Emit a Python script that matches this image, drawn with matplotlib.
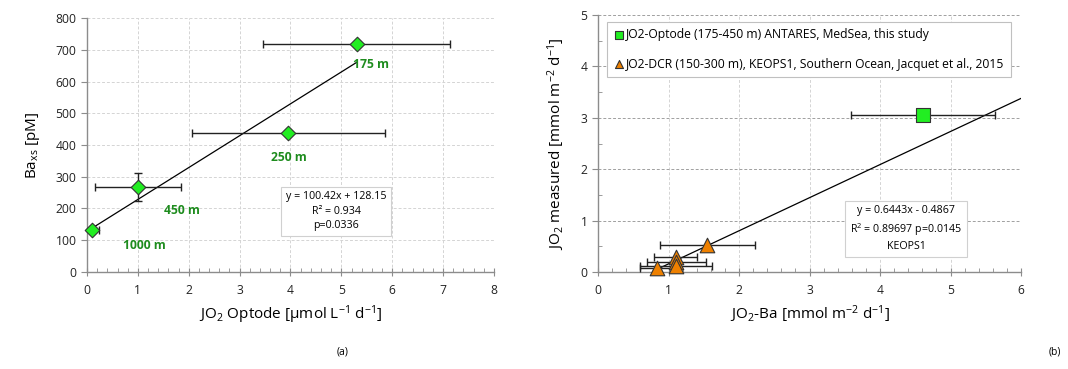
import numpy as np
import matplotlib
matplotlib.use('Agg')
import matplotlib.pyplot as plt
from matplotlib.ticker import MultipleLocator

plt.rcParams['font.family'] = ['Open Sans', 'DejaVu Sans']
plt.rcParams['mathtext.fontset'] = 'custom'
plt.rcParams['mathtext.rm'] = 'Open Sans'
plt.rcParams['mathtext.it'] = 'Open Sans'
plt.rcParams['mathtext.default'] = 'regular'

# panel (a): JO2 optode vs Ba excess
depths = ['175 m', '250 m', '450 m', '1000 m']
jo2_opt = [5.3, 3.96, 1.0, 0.1]
jo2_opt_err = [1.84, 1.9, 0.84, 0.14]
ba_xs = [718, 438, 268, 131]
ba_xs_err = [0, 0, 44, 0]
lab_x = [5.58, 3.96, 1.87, 1.12]
lab_y = [655, 362, 195, 82]
fit_a = (100.42, 128.15)

# panel (b): JO2 measured vs JO2-Ba
opt_x = [4.61]
opt_xerr = [1.02]
opt_y = [3.05]
keops_x = [1.55, 1.10, 1.11, 1.11, 0.84]
keops_xerr = [0.67, 0.31, 0.42, 0.51, 0.25]
keops_y = [0.52, 0.29, 0.19, 0.12, 0.07]
fit_b = (0.6443, -0.4867)

axis_grey = '#8c8c8c'
grid_grey = '#d4d4d4'


def style_axes(ax):
    for s in ['top', 'right']:
        ax.spines[s].set_visible(False)
    for s in ['left', 'bottom']:
        ax.spines[s].set_color(axis_grey)
        ax.spines[s].set_linewidth(1.0)
    ax.tick_params(axis='both', which='major', color=axis_grey, length=4,
                   labelsize=8.7, colors='#222222')
    ax.tick_params(axis='x', which='major', direction='inout', length=6, pad=6)
    ax.tick_params(axis='x', which='minor', direction='in', color=axis_grey, length=3)
    ax.tick_params(axis='y', which='major', direction='out')


fig = plt.figure(figsize=(10.68, 3.69), dpi=100)

# ---- (a)
ax1 = fig.add_axes([0.0815, 0.263, 0.381, 0.688])
ax1.set_xlim(0, 8)
ax1.set_ylim(0, 800)
ax1.xaxis.set_major_locator(MultipleLocator(1))
ax1.xaxis.set_minor_locator(MultipleLocator(0.2))
ax1.yaxis.set_major_locator(MultipleLocator(100))
ax1.grid(True, which='major', color=grid_grey, linestyle=(0, (3, 2)), linewidth=0.7)
ax1.set_axisbelow(True)
style_axes(ax1)

xs = np.array([min(jo2_opt), max(jo2_opt)])
ax1.plot(xs, fit_a[0] * xs + fit_a[1], color='black', lw=0.9, zorder=2)
ax1.errorbar(jo2_opt, ba_xs, xerr=jo2_opt_err, yerr=ba_xs_err, fmt='none',
             ecolor='#222222', elinewidth=1.0, capsize=3, capthick=1.0, zorder=3)
ax1.scatter(jo2_opt, ba_xs, marker='D', s=55, color='#22ee22', edgecolor='#333333',
            linewidth=0.8, zorder=4, clip_on=False)
for d, x, y in zip(depths, lab_x, lab_y):
    ax1.text(x, y, d, color='#1e8c1e', fontsize=8.7, fontweight='bold',
             ha='center', va='center')
ax1.text(4.9, 192, 'y = 100.42x + 128.15\nR² = 0.934\np=0.0336', ha='center', va='center',
         fontsize=7.7, linespacing=1.4,
         bbox=dict(boxstyle='square,pad=0.45', fc='white', ec='#d0d0d0', lw=0.8))
ax1.set_xlabel('JO$_2$ Optode [µmol L$^{-1}$ d$^{-1}$]', fontsize=11, labelpad=4)
ax1.set_ylabel('Ba$_{xs}$ [pM]', fontsize=11, labelpad=10)

# ---- (b)
ax2 = fig.add_axes([0.56, 0.263, 0.396, 0.696])
ax2.set_xlim(0, 6)
ax2.set_ylim(0, 5)
ax2.xaxis.set_major_locator(MultipleLocator(1))
ax2.xaxis.set_minor_locator(MultipleLocator(0.2))
ax2.yaxis.set_major_locator(MultipleLocator(1))
ax2.yaxis.set_minor_locator(MultipleLocator(0.5))
ax2.grid(True, axis='x', which='major', color=grid_grey, linestyle=(0, (3, 2)), linewidth=0.7)
ax2.grid(True, axis='y', which='major', color='#a0a0a0', linestyle=(0, (3, 2)), linewidth=0.7)
ax2.set_axisbelow(True)
style_axes(ax2)
ax2.tick_params(axis='y', which='minor', direction='in', color=axis_grey, length=3)

xs = np.array([min(keops_x), 6.0])
ax2.plot(xs, fit_b[0] * xs + fit_b[1], color='black', lw=0.9, zorder=2)
ax2.errorbar(opt_x, opt_y, xerr=opt_xerr, fmt='none', ecolor='#222222',
             elinewidth=1.0, capsize=3, capthick=1.0, zorder=3)
ax2.errorbar(keops_x, keops_y, xerr=keops_xerr, fmt='none', ecolor='#222222',
             elinewidth=1.0, capsize=3, capthick=1.0, zorder=3)
ax2.scatter(opt_x, opt_y, marker='s', s=95, color='#22ee22', edgecolor='#333333',
            linewidth=0.8, zorder=4, label='JO2-Optode (175-450 m) ANTARES, MedSea, this study')
ax2.scatter(keops_x, keops_y, marker='^', s=110, color='#ee8000', edgecolor='#333333',
            linewidth=0.8, zorder=4, clip_on=False,
            label='JO2-DCR (150-300 m), KEOPS1, Southern Ocean, Jacquet et al., 2015')
leg = ax2.legend(loc='upper left', bbox_to_anchor=(0.02, 0.975), fontsize=8.7,
                 frameon=True, fancybox=False, edgecolor='#c0c0c0', framealpha=1,
                 markerscale=0.55, handletextpad=0.1, handlelength=1.0,
                 labelspacing=1.35, borderpad=0.55, borderaxespad=0)
leg.get_frame().set_linewidth(0.8)
ax2.text(4.37, 0.84, 'y = 0.6443x - 0.4867\nR$^2$ = 0.89697 p=0.0145\nKEOPS1', ha='center',
         va='center', fontsize=7.7, linespacing=1.4,
         bbox=dict(boxstyle='square,pad=0.45', fc='white', ec='#d0d0d0', lw=0.8))
ax2.set_xlabel('JO$_2$-Ba [mmol m$^{-2}$ d$^{-1}$]', fontsize=11, labelpad=4)
ax2.set_ylabel('JO$_2$ measured [mmol m$^{-2}$ d$^{-1}$]', fontsize=11, labelpad=10)

fig.text(0.321, 0.045, '(a)', fontsize=7.5, ha='center', va='center')
fig.text(0.988, 0.045, '(b)', fontsize=7.5, ha='center', va='center')

fig.savefig('out.png', dpi=100)
